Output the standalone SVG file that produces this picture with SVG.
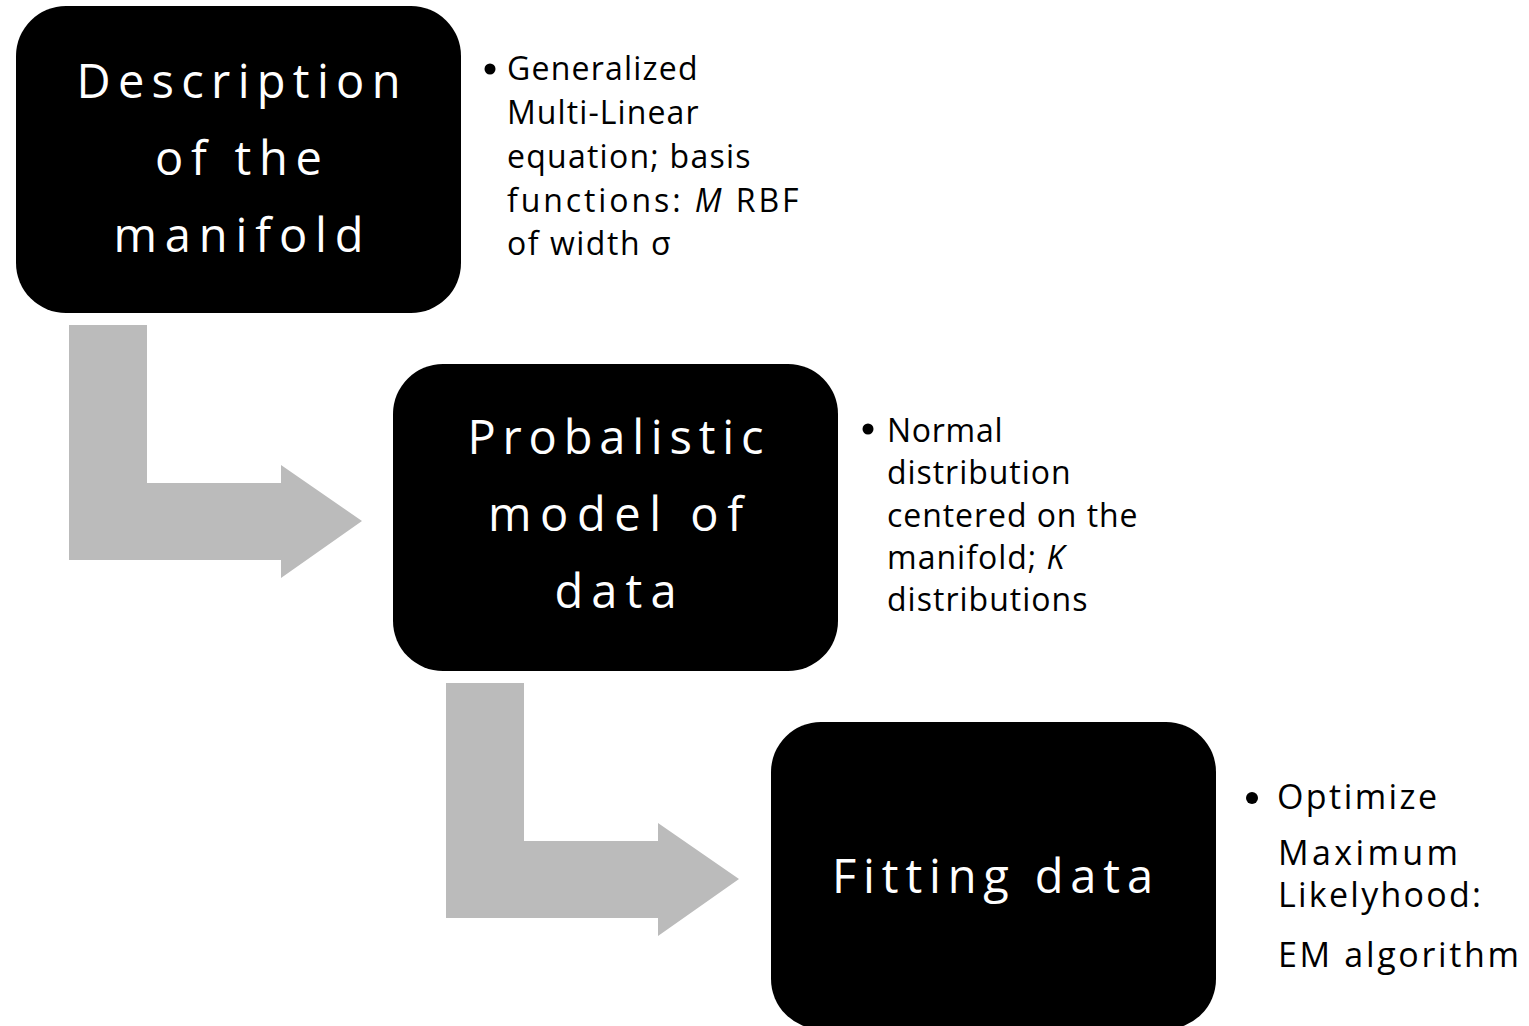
<svg xmlns="http://www.w3.org/2000/svg" width="1529" height="1026" viewBox="0 0 1529 1026">
  <style>
    .box { fill: #000000; }
    .title { font-family: "Open Sans", "Noto Sans", "Liberation Sans", sans-serif; font-size: 47px; fill: #ffffff; text-anchor: middle; }
    .note { font-family: "Open Sans", "Noto Sans", "Liberation Sans", sans-serif; font-size: 32px; fill: #000000; letter-spacing: -0.5px; }
    .note3 { font-family: "Open Sans", "Noto Sans", "Liberation Sans", sans-serif; font-size: 34px; fill: #000000; }
    .dot { fill: #000000; }
    .bend { fill: #bbbbbb; }
  </style>

  <rect width="1529" height="1026" fill="#ffffff"/>

  <!-- bent arrows between steps -->
  <g id="connectors">
    <polygon class="bend" points="69,325 147,325 147,483 281,483 281,465 362,521 281,578 281,560 69,560"/>
    <polygon class="bend" points="446,683 524,683 524,841 658,841 658,823 739,879 658,936 658,918 446,918"/>
  </g>

  <!-- step 1 -->
  <g id="step-manifold">
    <rect class="box" x="16" y="6" width="445" height="307" rx="50" ry="50"/>
    <text class="title" x="238.5" y="98" textLength="324">Description</text>
    <text class="title" x="238.5" y="175" textLength="167">of the</text>
    <text class="title" x="238.5" y="252" textLength="250">manifold</text>
  </g>
  <g id="note-manifold">
    <circle class="dot" cx="490" cy="69" r="5.5"/>
    <text class="note" x="507" y="80" textLength="190">Generalized</text>
    <text class="note" x="507" y="124" textLength="191">Multi-Linear</text>
    <text class="note" x="507" y="168" textLength="243">equation; basis</text>
    <text class="note" x="507" y="212" textLength="291">functions: <tspan font-style="italic">M</tspan> RBF</text>
    <text class="note" x="507" y="255" textLength="163">of width σ</text>
  </g>

  <!-- step 2 -->
  <g id="step-model">
    <rect class="box" x="393" y="364" width="445" height="307" rx="50" ry="50"/>
    <text class="title" x="615.5" y="454" textLength="296">Probalistic</text>
    <text class="title" x="615.5" y="531" textLength="255">model of</text>
    <text class="title" x="615.5" y="608" textLength="122">data</text>
  </g>
  <g id="note-model">
    <circle class="dot" cx="868" cy="429" r="5.5"/>
    <text class="note" x="887" y="442" textLength="115">Normal</text>
    <text class="note" x="887" y="484" textLength="183">distribution</text>
    <text class="note" x="887" y="527" textLength="250">centered on the</text>
    <text class="note" x="887" y="569" textLength="177">manifold; <tspan font-style="italic">K</tspan></text>
    <text class="note" x="887" y="611" textLength="200">distributions</text>
  </g>

  <!-- step 3 -->
  <g id="step-fitting">
    <rect class="box" x="771" y="722" width="445" height="307" rx="50" ry="50"/>
    <text class="title" x="992.5" y="893" textLength="321">Fitting data</text>
  </g>
  <g id="note-fitting">
    <circle class="dot" cx="1252" cy="798" r="6"/>
    <text class="note3" x="1277" y="809" textLength="160">Optimize</text>
    <text class="note3" x="1278" y="865" textLength="180">Maximum</text>
    <text class="note3" x="1278" y="907" textLength="203">Likelyhood:</text>
    <text class="note3" x="1278" y="967" textLength="241">EM algorithm</text>
  </g>
</svg>
